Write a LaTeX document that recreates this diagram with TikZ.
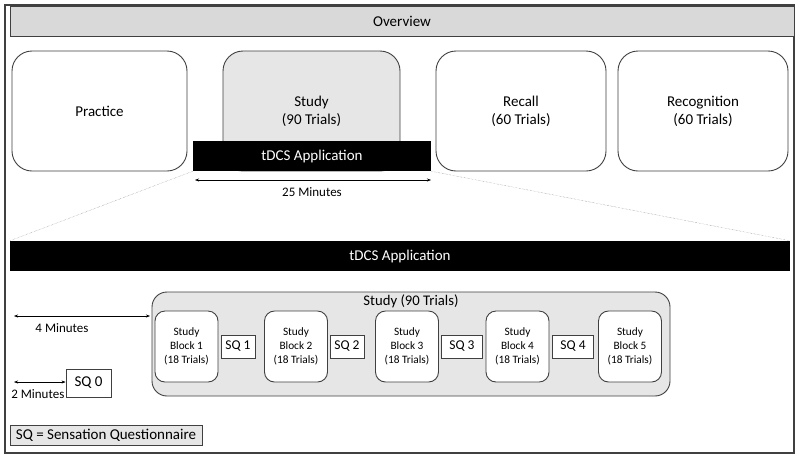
\documentclass[tikz,border=0pt]{standalone}
\usepackage{fontspec}
\setmainfont{Carlito}
\usetikzlibrary{arrows.meta}
\definecolor{frame}{HTML}{404040}
\definecolor{lgray}{HTML}{E6E6E6}
\definecolor{bgray}{HTML}{D9D9D9}
\begin{document}
\begin{tikzpicture}[x=1pt,y=-1pt,
  box/.style={draw=frame,line width=0.9pt,rectangle,align=center,inner sep=0pt},
  phase/.style={box,rounded corners=20pt,minimum width=#1,minimum height=120pt,font=\fontsize{15}{18}\selectfont},
  blackbar/.style={rectangle,fill=black,text=white,inner sep=0pt,minimum height=30pt,font=\fontsize{15}{17}\selectfont},
  block/.style={box,rounded corners=10pt,fill=white,minimum width=63pt,minimum height=71pt,font=\fontsize{11.3}{13.8}\selectfont},
  sq/.style={box,fill=white,minimum height=23pt,minimum width=#1,font=\fontsize{13.5}{15}\selectfont},
  dur/.style={line width=0.5pt,{Stealth[length=4pt,width=3pt]}-{Stealth[length=4pt,width=3pt]}},
  lbl/.style={font=\fontsize{13}{15}\selectfont,inner sep=1pt},
  zoomline/.style={gray,line width=0.4pt,densely dotted}]
\useasboundingbox (0,0) rectangle (800,459);
\fill[white] (0,0) rectangle (800,459);
\draw[frame,line width=1.3pt] (5,5) rectangle (794,453);
% overview
\node[box,fill=bgray,minimum width=784pt,minimum height=30pt,font=\fontsize{15}{17}\selectfont] (ov) at (402,21) {Overview};
\node[phase=175pt] (prac) at (99.5,111) {Practice};
\node[phase=177pt,fill=lgray] (study) at (311.5,111) {Study\\(90 Trials)};
\node[phase=170pt] (recall) at (521,111) {Recall\\(60 Trials)};
\node[phase=170pt] (recog) at (703,111) {Recognition\\(60 Trials)};
\node[blackbar,minimum width=238pt] (tsmall) at (312,156) {tDCS Application};
\coordinate (a25l) at (195,180);
\coordinate (a25r) at (431,180);
\draw[dur] (a25l) -- (a25r);
\node[lbl] (l25) at (312,192) {25 Minutes};
% zoomed bar
\node[blackbar,minimum width=780pt] (tbig) at (400,256) {tDCS Application};
\draw[zoomline] (tsmall.south west) -- (tbig.north west);
\draw[zoomline] (tsmall.south east) -- (tbig.north east);
% study detail
\node[box,fill=lgray,rounded corners=15pt,minimum width=518pt,minimum height=104pt] (sbig) at (411,344) {};
\node[font=\fontsize{14.7}{17}\selectfont,inner sep=0pt] (stitle) at (411,301) {Study (90 Trials)};
\node[block] (b1) at (186.5,346.5) {Study\\Block 1\\(18 Trials)};
\node[block] (b2) at (296,346.5) {Study\\Block 2\\(18 Trials)};
\node[block] (b3) at (407,346.5) {Study\\Block 3\\(18 Trials)};
\node[block] (b4) at (517.5,346.5) {Study\\Block 4\\(18 Trials)};
\node[block] (b5) at (630,346.5) {Study\\Block 5\\(18 Trials)};
\node[sq=34pt] (sq1) at (238,346.5) {SQ 1};
\node[sq=34pt] (sq2) at (347,346.5) {SQ 2};
\node[sq=41pt] (sq3) at (462,346.5) {SQ 3};
\node[sq=41pt] (sq4) at (573,346.5) {SQ 4};
% time markers
\coordinate (a4l) at (14,316);
\coordinate (a4r) at (150,316);
\draw[dur] (a4l) -- (a4r);
\node[lbl] (l4) at (62,328) {4 Minutes};
\node[sq=45pt,minimum height=28pt,font=\fontsize{15}{17}\selectfont] (sq0) at (88.5,383) {SQ 0};
\coordinate (a2l) at (14,382);
\draw[dur] (a2l) -- (sq0.west |- a2l);
\node[lbl,anchor=east] (l2) at (sq0.west |- 0,394) {2 Minutes};
% legend
\node[box,fill=lgray,minimum width=192pt,minimum height=20pt,font=\fontsize{15}{17}\selectfont] (leg) at (106,435) {SQ = Sensation Questionnaire};
\end{tikzpicture}
\end{document}
